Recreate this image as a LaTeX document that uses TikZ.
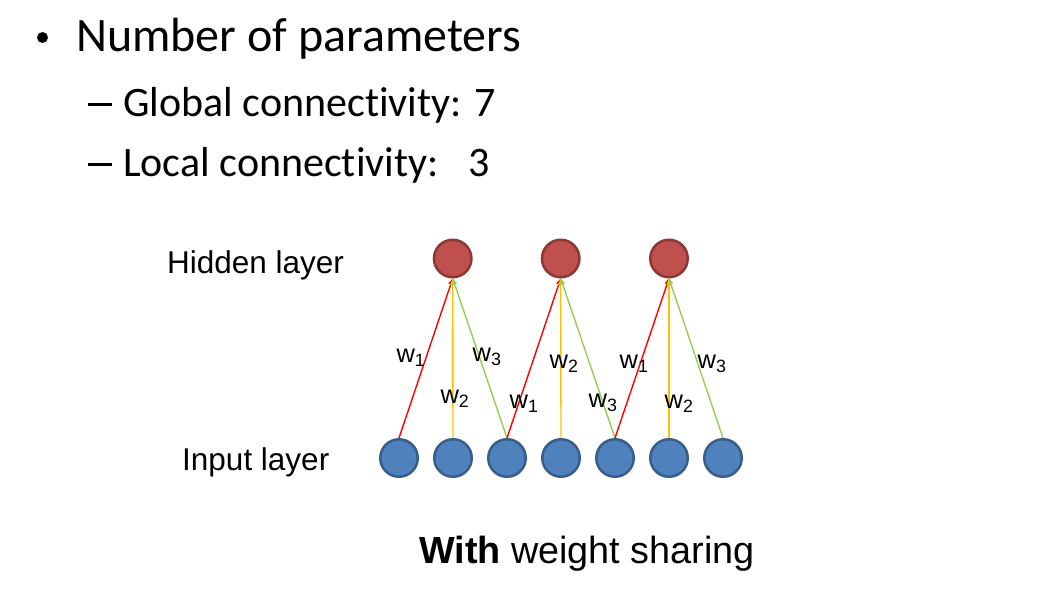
\documentclass[tikz,border=0pt]{standalone}
\usepackage{fontspec}
\setmainfont{Liberation Sans}
\newfontfamily\calibri[RawFeature=-liga]{Carlito}
\usetikzlibrary{arrows.meta}
\definecolor{hidfill}{HTML}{C0504D}
\definecolor{hiddraw}{HTML}{8C3836}
\definecolor{infill}{HTML}{4F81BD}
\definecolor{indraw}{HTML}{385D8A}
\definecolor{wone}{HTML}{FF0000}
\definecolor{wtwo}{HTML}{FFC000}
\definecolor{wthree}{HTML}{92D050}
\newcommand{\subdash}{\rule[10pt]{24pt}{2.6pt}}
\begin{document}
\begin{tikzpicture}[x=1pt,y=-1pt,
  hidden/.style={circle,draw=hiddraw,fill=hidfill,line width=2.5pt,minimum size=37.5pt,inner sep=0pt},
  input/.style={circle,draw=indraw,fill=infill,line width=2.5pt,minimum size=37.5pt,inner sep=0pt},
  conn/.style={line width=1.4pt,-{Triangle[length=6pt,width=5pt]}},
  wlab/.style={font=\fontsize{25.5}{25.5}\selectfont,inner sep=0pt},
  layerlab/.style={font=\fontsize{31.5}{31.5}\selectfont,anchor=base west,inner sep=0pt},
  bullet/.style={circle,fill=black,minimum size=11pt,inner sep=0pt},
  headline/.style={font=\calibri\fontsize{48}{48}\selectfont,anchor=base west,inner sep=0pt},
  subline/.style={font=\calibri\fontsize{42}{42}\selectfont,anchor=base west,inner sep=0pt}]
\useasboundingbox (0,0) rectangle (1038,594);

% heading text
\node[bullet] (b0) at (42.5,37.5) {};
\node[headline] (t0) at (76,52) {Number of parameters};
\node[subline] (t1) at (88,116) {\subdash\hspace{11pt}Global connectivity: 7};
\node[subline] (t2) at (88,176) {\subdash\hspace{11pt}Local connectivity:\hspace{30pt}3};

% layer captions
\node[layerlab] (lh) at (167,273) {Hidden layer};
\node[layerlab] (li) at (182,470) {Input layer};
\node[font=\fontsize{37.8}{37.8}\selectfont,anchor=base west,inner sep=0pt] (cap) at (419,563) {\textbf{With} weight sharing};

% hidden units
\node[hidden] (h1) at (452.7,258.5) {};
\node[hidden] (h2) at (560.7,258.5) {};
\node[hidden] (h3) at (669,258.5) {};

% input units
\foreach \i/\x in {1/399,2/453,3/507,4/561,5/615,6/669,7/723}
  \node[input] (i\i) at (\x,458) {};

% shared weights: w1 red, w2 orange, w3 green
\draw[conn,wone]   (i1.north) -- (h1.south);
\draw[conn,wtwo]   (i2.north) -- (h1.south);
\draw[conn,wthree] (i3.north) -- (h1.south);
\draw[conn,wone]   (i3.north) -- (h2.south);
\draw[conn,wtwo]   (i4.north) -- (h2.south);
\draw[conn,wthree] (i5.north) -- (h2.south);
\draw[conn,wone]   (i5.north) -- (h3.south);
\draw[conn,wtwo]   (i6.north) -- (h3.south);
\draw[conn,wthree] (i7.north) -- (h3.south);

% weight labels
\node[wlab] (a1) at (411,358) {w\textsubscript{1}};
\node[wlab] (a3) at (487,357) {w\textsubscript{3}};
\node[wlab] (a2) at (455,399) {w\textsubscript{2}};
\node[wlab] (b1) at (524,404) {w\textsubscript{1}};
\node[wlab] (b2) at (564,364) {w\textsubscript{2}};
\node[wlab] (b3) at (603,403) {w\textsubscript{3}};
\node[wlab] (c1) at (634,364) {w\textsubscript{1}};
\node[wlab] (c2) at (679,404) {w\textsubscript{2}};
\node[wlab] (c3) at (712,364) {w\textsubscript{3}};
\end{tikzpicture}
\end{document}
